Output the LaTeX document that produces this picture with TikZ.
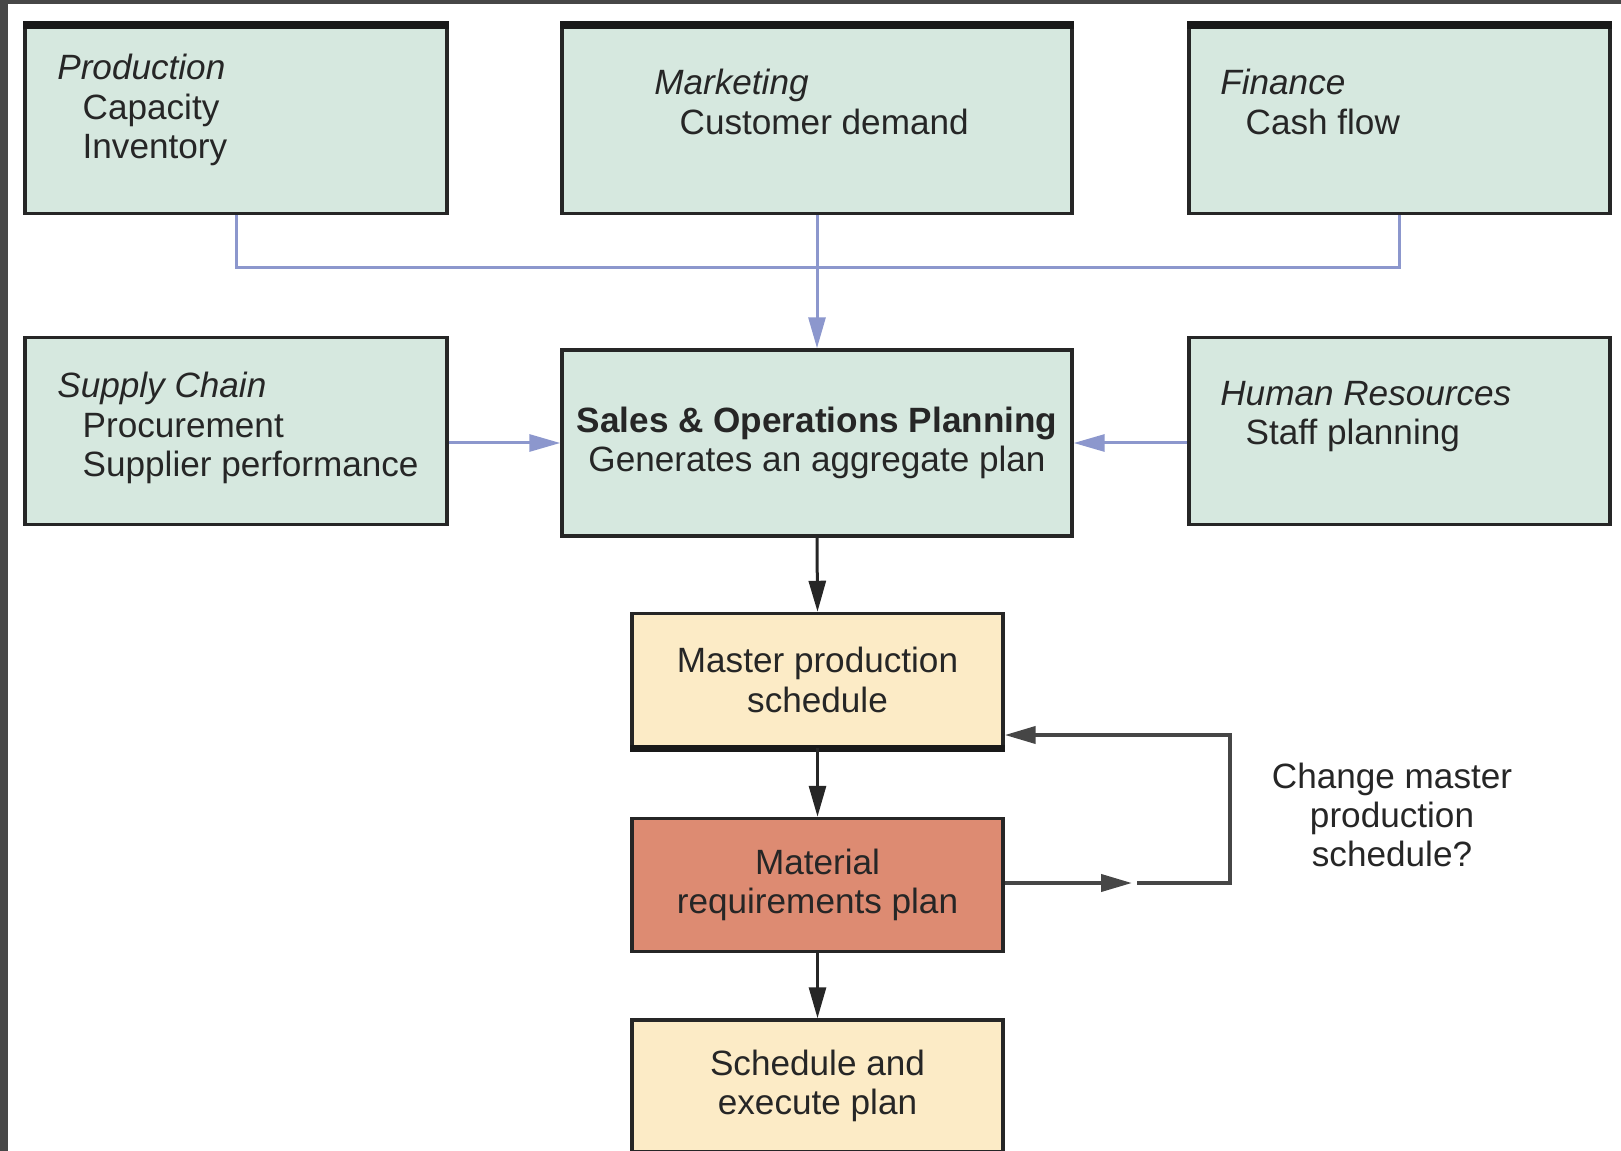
\documentclass[tikz,border=0pt]{standalone}
\usepackage{fontspec}
\setmainfont{Liberation Sans}
\usepackage{xcolor}
\usepackage{tikz}
\usetikzlibrary{arrows,arrows.meta,positioning}

\definecolor{deptGreen}{RGB}{214,232,223}
\definecolor{schedCream}{RGB}{252,235,198}
\definecolor{mrpSalmon}{RGB}{221,139,114}
\definecolor{linkBlue}{RGB}{140,151,205}
\definecolor{loopGray}{RGB}{70,70,70}
\definecolor{frameGray}{RGB}{71,71,71}

\begin{document}
\begin{tikzpicture}[x=0.02cm,y=-0.02cm,
font=\fontsize{20}{22.4}\selectfont,
box/.style={draw=black!85,line width=0.07cm,inner sep=0pt,text=black!85},
deptbox/.style={box,fill=deptGreen,minimum height=3.74cm},
stepbox/.style={box,minimum width=7.42cm,minimum height=2.66cm,align=center},
lbl/.style={anchor=north west,inner sep=0pt,align=left,text=black!85},
bluelink/.style={draw=linkBlue,line width=0.06cm},
blacklink/.style={draw=black!85,line width=0.06cm},
looplink/.style={draw=loopGray,line width=0.08cm},
>={Triangle[length=0.62cm,width=0.34cm]}]
\path[use as bounding box,clip] (0,0) rectangle (1621,1151);
\fill[frameGray] (0,0) rectangle (1621,4);
\fill[frameGray] (0,0) rectangle (8,1151);

% functional areas
\node[deptbox,minimum width=8.44cm] (prod) at (236,120) {};
\node[deptbox,minimum width=10.2cm] (mkt) at (817,120) {};
\node[deptbox,minimum width=8.42cm] (fin) at (1399.5,120) {};
\node[deptbox,minimum width=8.44cm] (supply) at (236,431) {};
\node[deptbox,minimum width=8.42cm] (hr) at (1399.5,431) {};
\foreach \n in {prod,mkt,fin}
  \draw[black!90,line width=0.15cm] (\n.north west) -- (\n.north east);

\node[lbl] (prodtxt) at (57,54) {\textit{Production}\\\hspace{0.72em}Capacity\\\hspace{0.72em}Inventory};
\node[lbl] (mkttxt) at (654,69) {\textit{Marketing}\\\hspace{0.72em}Customer demand};
\node[lbl] (fintxt) at (1220,69) {\textit{Finance}\\\hspace{0.72em}Cash flow};
\node[lbl] (supplytxt) at (57,372) {\textit{Supply Chain}\\\hspace{0.72em}Procurement\\\hspace{0.72em}Supplier performance};
\node[lbl] (hrtxt) at (1220,381) {\textit{Human Resources}\\\hspace{0.72em}Staff planning};

% planning chain
\node[box,fill=deptGreen,minimum width=10.2cm,minimum height=3.72cm,align=center] (sop) at (817,443)
  {\textbf{Sales \& Operations Planning}\\Generates an aggregate plan};
\node[stepbox,fill=schedCream] (mps) at (817.5,680) {Master production\\schedule};
\draw[black!90,line width=0.14cm] (mps.south west) -- (mps.south east);
\node[stepbox,fill=mrpSalmon] (mrp) at (817.5,885) {Material\\requirements plan};
\node[stepbox,fill=schedCream,minimum height=2.64cm] (exec) at (817.5,1086) {Schedule and\\execute plan};
\node[align=center,text=black!85] (question) at (1392,815) {Change master\\production\\schedule?};

% inputs
\coordinate (bus) at (817,268);
\path[bluelink] (prod.south) |- (bus) -| (fin.south);
\path[bluelink,->] (mkt.south) -- (sop.north);
\path[bluelink,->] (supply.east |- sop.west) -- (sop.west);
\path[bluelink,->] (hr.west |- sop.east) -- (sop.east);

% downstream
\path[blacklink,->] (sop.south) -- (mps.north);
\path[blacklink,->] (mps.south) -- (mrp.north);
\path[blacklink,->] (mrp.south) -- (exec.north);

% feedback loop
\coordinate (fbmid) at (1132,883);
\coordinate (fbtop) at (1230,735);
\path[looplink,->] (mrp.east |- fbmid) -- (fbmid);
\path[looplink,->] ([xshift=0.1cm]fbmid) -| (fbtop) -- (mps.east |- fbtop);
\end{tikzpicture}
\end{document}
